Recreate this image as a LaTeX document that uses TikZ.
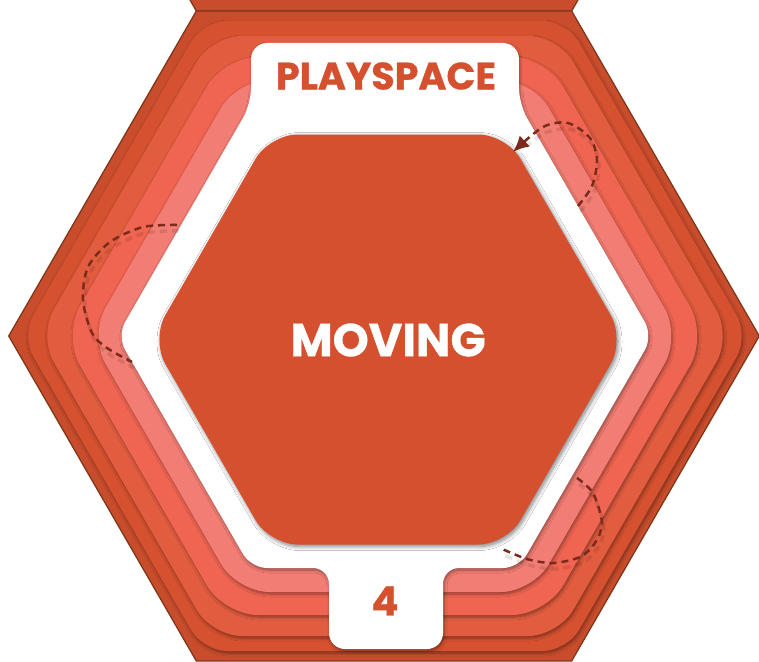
\documentclass[tikz,border=0pt]{standalone}
\usepackage{fontspec}
\newfontfamily\hfont{Poppins}[BoldFeatures={FakeBold=0.8}]
\usetikzlibrary{arrows.meta,shadows.blur}
\definecolor{outerc}{HTML}{C94D2C}
\definecolor{edgec}{HTML}{7E3819}
\definecolor{bandA}{HTML}{D5512F}
\definecolor{bandB}{HTML}{E25D40}
\definecolor{bandC}{HTML}{F06551}
\definecolor{bandD}{HTML}{F27D74}
\definecolor{corec}{HTML}{D4502F}
\definecolor{dashc}{HTML}{7A2B1B}
\newcommand\hexat[3]{({#1-2*#3/sqrt(3)},#2) -- ({#1-#3/sqrt(3)},{#2-#3}) -- ({#1+#3/sqrt(3)},{#2-#3}) -- ({#1+2*#3/sqrt(3)},#2) -- ({#1+#3/sqrt(3)},{#2+#3}) -- ({#1-#3/sqrt(3)},{#2+#3}) -- cycle}
\tikzset{
  bandshadow/.style={blur shadow={shadow xshift=1pt, shadow yshift=-2pt, shadow blur radius=3pt, shadow blur steps=6, shadow opacity=40}},
  coreshadow/.style={blur shadow={shadow xshift=1.5pt, shadow yshift=-2pt, shadow blur radius=4pt, shadow blur steps=8, shadow opacity=50}},
  dasharc/.style={draw=dashc, line width=2.5pt, dash pattern=on 7pt off 5pt},
  dashghost/.style={draw=black, opacity=0.10, line width=3.5pt, dash pattern=on 7pt off 5pt},
}
\begin{document}
\begin{tikzpicture}[x=1pt,y=-1pt]
\useasboundingbox (0,0) rectangle (759,661);
\clip (0,0) rectangle (759,661);
% neighbour hexagon above
\filldraw[fill=outerc, draw=edgec, line width=1.3pt] \hexat{384}{-314}{325};
% outer hexagon
\filldraw[fill=outerc, draw=edgec, line width=1.3pt] \hexat{384}{336}{325};
% bands
\fill[bandA, rounded corners=24pt, bandshadow] \hexat{385}{336}{315};
\fill[bandB, rounded corners=30pt, bandshadow] \hexat{385}{336}{300};
\fill[bandC, rounded corners=34pt, bandshadow] \hexat{385}{336}{279};
\fill[bandD, rounded corners=32pt, bandshadow] \hexat{385}{336}{256};
% white field with tabs
\fill[white, rounded corners=16pt, bandshadow] (184,452) -- (117.1,336) -- (251.05,104) -- (251.05,43) -- (518.95,43) -- (518.95,104) -- (652.9,336) -- (518.95,568) -- (443,568) -- (443,649) -- (329,649) -- (329,568) -- (251.05,568) -- cycle;
% core hexagon
\fill[corec, rounded corners=28pt, coreshadow] \hexat{388}{339.5}{205};
% texts
\node[font=\hfont\bfseries\fontsize{38}{38}\selectfont, text=corec] (playspace) at (386,76) {PLAYSPACE};
\node[font=\hfont\bfseries\fontsize{46}{46}\selectfont, text=white] (moving) at (388,340) {MOVING};
\node[font=\hfont\bfseries\fontsize{40}{40}\selectfont, text=corec] (four) at (385,601) {4};
% dashed arcs (ghosts)
\begin{scope}[shift={(2,6)}]
\draw[dashghost] plot[smooth] coordinates {(578,206) (592,186) (597,160) (590,138) (568,123) (543,127) (524,141)};
\draw[dashghost] plot[smooth] coordinates {(177,225) (143,227) (110,242) (88,267) (83,300) (92,333) (107,348) (132,362)};
\draw[dashghost] plot[smooth] coordinates {(577,478) (593,493) (602,523) (595,543) (580,557) (553,563) (527,559) (500,548)};
\end{scope}
% dashed arcs
\draw[dasharc, -{Latex[length=16pt,width=15pt]}] plot[smooth] coordinates {(578,206) (592,186) (597,160) (590,138) (568,123) (543,127) (513,152)};
\draw[dasharc] plot[smooth] coordinates {(177,225) (143,227) (110,242) (88,267) (83,300) (92,333) (107,348) (132,362)};
\draw[dasharc] plot[smooth] coordinates {(577,478) (593,493) (602,523) (595,543) (580,557) (553,563) (527,559) (500,548)};
\end{tikzpicture}
\end{document}
